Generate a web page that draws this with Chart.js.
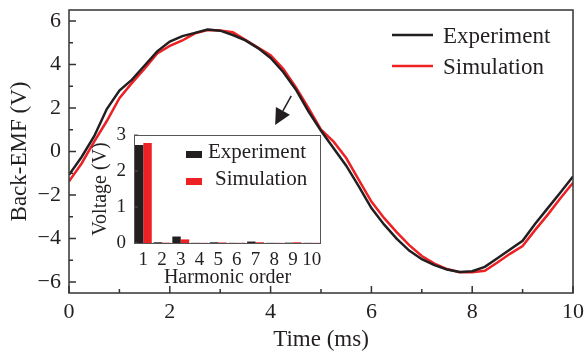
<!DOCTYPE html>
<html><head><meta charset="utf-8">
<script src="https://cdn.jsdelivr.net/npm/chart.js@4.4.1/dist/chart.umd.min.js"></script>
<style>
html,body{margin:0;padding:0;background:#fff;}
#wrap{position:relative;width:585px;height:354px;overflow:hidden;}
#main{position:absolute;left:0;top:0;}
#inset{position:absolute;left:80px;top:120px;}
</style></head><body>
<div id="wrap"><canvas id="main" width="585" height="354"></canvas><canvas id="inset" width="245" height="170"></canvas></div>
<script>
// ---- main chart data ----
const timeMs = [0,0.25,0.5,0.75,1,1.25,1.5,1.75,2,2.25,2.5,2.75,3,3.25,3.5,3.75,4,4.25,4.5,4.75,5,5.25,5.5,5.75,6,6.25,6.5,6.75,7,7.25,7.5,7.75,8,8.25,8.5,8.75,9,9.25,9.5,9.75,10];
const experiment = [-1.07,-0.25,0.70,1.95,2.80,3.30,3.95,4.60,5.05,5.30,5.45,5.60,5.55,5.35,5.10,4.75,4.30,3.65,2.85,1.85,0.95,0.15,-0.65,-1.60,-2.60,-3.35,-4.00,-4.55,-4.95,-5.22,-5.42,-5.53,-5.50,-5.30,-4.90,-4.50,-4.10,-3.32,-2.60,-1.88,-1.15];
const simulation = [-1.37,-0.55,0.45,1.40,2.45,3.15,3.80,4.50,4.85,5.10,5.43,5.58,5.56,5.48,5.13,4.77,4.42,3.80,2.95,2.00,1.00,0.45,-0.30,-1.30,-2.30,-3.05,-3.70,-4.30,-4.80,-5.15,-5.40,-5.55,-5.55,-5.48,-5.10,-4.70,-4.34,-3.60,-2.90,-2.15,-1.44];
const xTicks = [0,2,4,6,8,10];
const xMinorTicks = [1,3,5,7,9];
const yTicks = [-6,-4,-2,0,2,4,6];
const yMinorTicks = [-5,-3,-1,1,3,5];
const seriesLabels = ['Experiment','Simulation'];
const arrowFrom = {x:4.41, y:2.55};
const arrowTo = {x:4.09, y:1.22};

// ---- inset data ----
const harmonicOrder = ['1','2','3','4','5','6','7','8','9','10'];
const expHarmonic = [2.72,0.02,0.18,0.005,0.02,0.005,0.04,0.005,0.01,0.005];
const simHarmonic = [2.78,0.01,0.10,0.005,0.015,0.005,0.02,0.005,0.02,0.005];
const insetYTicks = [0,1,2,3];

const BLACK = '#231f20';
const RED = '#ed2024';
const TXT = '#231f20';
const SERIF = "'Liberation Serif','Times New Roman',serif";

Chart.defaults.font.family = SERIF;
Chart.defaults.color = TXT;

const noPadX = s => { s.paddingLeft = 0; s.paddingRight = 0; };
const noPadY = s => { s.paddingTop = 0; s.paddingBottom = 0; };

const mainDecor = {
  id: 'mainDecor',
  afterDraw(chart) {
    const {ctx, chartArea: a, scales: {x, y}} = chart;
    ctx.save();
    ctx.strokeStyle = '#333';
    ctx.lineWidth = 1.5;
    ctx.strokeRect(a.left, a.top, a.right - a.left, a.bottom - a.top);
    ctx.beginPath();
    const tick = (px, len, horiz) => {
      if (horiz) { ctx.moveTo(a.left, px); ctx.lineTo(a.left + len, px); }
      else { ctx.moveTo(px, a.bottom); ctx.lineTo(px, a.bottom - len); }
    };
    xTicks.forEach(v => tick(x.getPixelForValue(v), 7, false));
    xMinorTicks.forEach(v => tick(x.getPixelForValue(v), 4, false));
    yTicks.forEach(v => tick(y.getPixelForValue(v), 7, true));
    yMinorTicks.forEach(v => tick(y.getPixelForValue(v), 4, true));
    ctx.stroke();

    // legend
    ctx.font = '23px ' + SERIF;
    ctx.textBaseline = 'middle';
    ctx.fillStyle = TXT;
    const lx0 = a.right - 181, lx1 = a.right - 140, tx = a.right - 130;
    const rows = [a.top + 25, a.top + 56];
    chart.data.datasets.forEach((ds, i) => {
      ctx.strokeStyle = ds.borderColor;
      ctx.lineWidth = 2.5;
      ctx.beginPath(); ctx.moveTo(lx0, rows[i]); ctx.lineTo(lx1, rows[i]); ctx.stroke();
      ctx.fillStyle = TXT;
      ctx.fillText(ds.label, tx, rows[i] + 2);
    });

    // arrow
    const fx = x.getPixelForValue(arrowFrom.x), fy = y.getPixelForValue(arrowFrom.y);
    const tx2 = x.getPixelForValue(arrowTo.x), ty2 = y.getPixelForValue(arrowTo.y);
    const ang = Math.atan2(ty2 - fy, tx2 - fx);
    const hl = 16, hw = 8;
    const bx = tx2 - hl * Math.cos(ang), by = ty2 - hl * Math.sin(ang);
    ctx.strokeStyle = BLACK; ctx.lineWidth = 1.5;
    ctx.beginPath(); ctx.moveTo(fx, fy); ctx.lineTo(bx, by); ctx.stroke();
    ctx.fillStyle = BLACK;
    ctx.beginPath();
    ctx.moveTo(tx2, ty2);
    ctx.lineTo(bx + hw * Math.sin(ang), by - hw * Math.cos(ang));
    ctx.lineTo(bx - hw * Math.sin(ang), by + hw * Math.cos(ang));
    ctx.closePath(); ctx.fill();
    ctx.restore();
  }
};

new Chart(document.getElementById('main'), {
  type: 'line',
  data: {
    datasets: [
      {label: seriesLabels[0], data: timeMs.map((t, i) => ({x: t, y: experiment[i]})), borderColor: BLACK, borderWidth: 2.5, pointRadius: 0, tension: 0},
      {label: seriesLabels[1], data: timeMs.map((t, i) => ({x: t, y: simulation[i]})), borderColor: RED, borderWidth: 2.5, pointRadius: 0, tension: 0}
    ]
  },
  options: {
    responsive: false, animation: false, devicePixelRatio: 1,
    layout: {padding: {top: 10, right: 12, left: 0, bottom: 0}},
    plugins: {legend: {display: false}, tooltip: {enabled: false}},
    scales: {
      x: {
        type: 'linear', min: 0, max: 10,
        afterBuildTicks: s => { s.ticks = xTicks.map(v => ({value: v})); },
        afterFit: s => { s.height = 61; noPadX(s); },
        grid: {display: false, drawTicks: false}, border: {display: false},
        ticks: {font: {size: 22}, color: TXT, padding: 6, maxRotation: 0},
        title: {display: true, text: 'Time (ms)', font: {size: 23}, color: TXT, padding: {top: 0, bottom: 0}}
      },
      y: {
        type: 'linear', min: -6.5, max: 6.5,
        afterBuildTicks: s => { s.ticks = yTicks.map(v => ({value: v})); },
        afterFit: s => { s.width = 69; noPadY(s); },
        grid: {display: false, drawTicks: false}, border: {display: false},
        ticks: {font: {size: 22}, color: TXT, padding: 8, callback: v => (v < 0 ? '\u2212' + Math.abs(v) : String(v))},
        title: {display: true, text: 'Back-EMF (V)', font: {size: 23}, color: TXT, padding: {top: 6, bottom: 0}}
      }
    }
  },
  plugins: [mainDecor]
});

const insetDecor = {
  id: 'insetDecor',
  afterDraw(chart) {
    const {ctx, chartArea: a, scales: {y}} = chart;
    ctx.save();
    ctx.strokeStyle = '#555';
    ctx.lineWidth = 1;
    ctx.strokeRect(a.left + 0.5, a.top + 0.5, a.right - a.left - 1, a.bottom - a.top);
    ctx.beginPath();
    insetYTicks.forEach(v => { const py = y.getPixelForValue(v); ctx.moveTo(a.left, py); ctx.lineTo(a.left + 4, py); });
    ctx.stroke();
    // legend
    ctx.font = '21px ' + SERIF;
    ctx.textBaseline = 'alphabetic';
    const rx = a.left + 52, rw = 16, rh = 7;
    const base = [a.top + 23, a.top + 50];
    const txs = [a.left + 74, a.left + 81];
    chart.data.datasets.forEach((ds, i) => {
      ctx.fillStyle = ds.backgroundColor;
      ctx.fillRect(rx, base[i] - rh, rw, rh);
      ctx.fillStyle = TXT;
      ctx.fillText(ds.label, txs[i], base[i]);
    });
    ctx.restore();
  }
};

new Chart(document.getElementById('inset'), {
  type: 'bar',
  data: {
    labels: harmonicOrder,
    datasets: [
      {label: seriesLabels[0], data: expHarmonic, backgroundColor: BLACK, borderWidth: 0, categoryPercentage: 0.9, barPercentage: 1.0},
      {label: seriesLabels[1], data: simHarmonic, backgroundColor: RED, borderWidth: 0, categoryPercentage: 0.9, barPercentage: 1.0}
    ]
  },
  options: {
    responsive: false, animation: false, devicePixelRatio: 1,
    layout: {padding: {top: 15, right: 4, left: 0, bottom: 0}},
    plugins: {legend: {display: false}, tooltip: {enabled: false}},
    scales: {
      x: {
        afterFit: s => { s.height = 47; noPadX(s); },
        grid: {display: false, drawTicks: false}, border: {display: false},
        ticks: {font: {size: 19}, color: TXT, padding: 6, maxRotation: 0, autoSkip: false},
        title: {display: true, text: 'Harmonic order', font: {size: 20}, color: TXT, padding: {top: 0, bottom: 0}}
      },
      y: {
        min: 0, max: 3,
        afterBuildTicks: s => { s.ticks = insetYTicks.map(v => ({value: v})); },
        afterFit: s => { s.width = 54; noPadY(s); },
        grid: {display: false, drawTicks: false}, border: {display: false},
        ticks: {font: {size: 19}, color: TXT, padding: 8},
        title: {display: true, text: 'Voltage (V)', font: {size: 20}, color: TXT, padding: {top: 9, bottom: 0}}
      }
    }
  },
  plugins: [insetDecor]
});
</script>
</body></html>
